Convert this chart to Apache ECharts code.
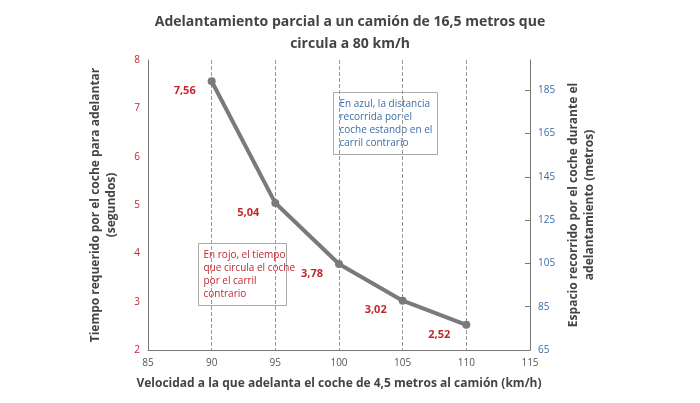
<!DOCTYPE html>
<html><head><meta charset="utf-8">
<script src="https://cdn.jsdelivr.net/npm/echarts@6/dist/echarts.min.js"></script>
<style>html,body{margin:0;padding:0;background:#fff}#c{width:700px;height:403px}</style>
</head><body><div id="c"></div>
<script>
const speeds = [90, 95, 100, 105, 110];
const times = [7.56, 5.04, 3.78, 3.02, 2.52];
const distances = [189.00, 133.00, 105.00, 88.20, 77.00];
const rightTicks = [65, 85, 105, 125, 145, 165, 185];

const red = '#c0282d', blue = '#3a6ea5';
const chart = echarts.init(document.getElementById('c'));
const fmt = v => v.toFixed(2).replace('.', ',');
chart.setOption({
  animation: false,
  title: {
    text: 'Adelantamiento parcial a un camión de 16,5 metros que\ncircula a 80 km/h',
    left: 'center', top: 6,
    textStyle: {fontFamily: 'Open Sans', fontSize: 14, fontWeight: 'bold', color: '#444', lineHeight: 22}
  },
  grid: {left: 148, right: 170, top: 60, bottom: 53},
  xAxis: {
    type: 'value', min: 85, max: 115, interval: 5,
    name: 'Velocidad a la que adelanta el coche de 4,5 metros al camión (km/h)',
    nameLocation: 'middle', nameGap: 28,
    nameTextStyle: {fontFamily: 'Open Sans', fontWeight: 'bold', fontSize: 12, color: '#444'},
    axisLine: {lineStyle: {color: '#777'}}, axisTick: {show: false},
    axisLabel: {color: '#555', fontSize: 10, fontFamily: 'Open Sans'},
    splitLine: {show: true, lineStyle: {type: 'dashed', color: '#999'}}
  },
  yAxis: [{
    type: 'value', min: 2, max: 8, interval: 1, position: 'left',
    name: 'Tiempo requerido por el coche para adelantar\n(segundos)',
    nameLocation: 'middle', nameGap: 28, nameRotate: 90,
    nameTextStyle: {fontFamily: 'Open Sans', fontWeight: 'bold', fontSize: 12, color: '#444', lineHeight: 16},
    axisLine: {show: true, lineStyle: {color: '#777'}}, axisTick: {show: false},
    axisLabel: {color: red, fontSize: 10, fontFamily: 'Open Sans'},
    splitLine: {show: false}
  }, {
    type: 'value', min: 65, max: 65 + 6.7 * 20, position: 'right',
    customValues: rightTicks,
    name: 'Espacio recorrido por el coche durante el\nadelantamiento (metros)',
    nameLocation: 'middle', nameGap: 36, nameRotate: 90,
    nameTextStyle: {fontFamily: 'Open Sans', fontWeight: 'bold', fontSize: 12, color: '#444', lineHeight: 16},
    axisLine: {show: true, lineStyle: {color: '#777'}},
    axisTick: {show: true, customValues: rightTicks, inside: true, lineStyle: {color: '#777'}},
    axisLabel: {color: blue, fontSize: 10, fontFamily: 'Open Sans', customValues: rightTicks},
    splitLine: {show: false}
  }],
  series: [{
    type: 'line', yAxisIndex: 0, z: 3,
    data: speeds.map((s, i) => [s, times[i]]),
    lineStyle: {color: '#7a7a7a', width: 4},
    itemStyle: {color: '#7a7a7a'}, symbol: 'circle', symbolSize: 8,
    label: {show: true, position: [-34, 8], formatter: p => fmt(p.value[1]),
      color: red, fontWeight: 'bold', fontSize: 11, fontFamily: 'Open Sans'}
  }, {
    type: 'line', yAxisIndex: 1, z: 4,
    data: speeds.map((s, i) => [s, distances[i]]),
    lineStyle: {opacity: 0}, symbol: 'circle', symbolSize: 1,
    itemStyle: {opacity: 0},
    label: {show: true, position: [10, -16], formatter: p => fmt(p.value[1]),
      color: blue, fontSize: 11, fontFamily: 'Open Sans'}
  }],
  graphic: [{
    type: 'group', left: 333, top: 92,
    children: [
      {type: 'rect', shape: {width: 104, height: 62}, style: {fill: '#fff', stroke: '#aaa'}},
      {type: 'text', x: 6, y: 5, style: {text: 'En azul, la distancia\nrecorrida por el\ncoche estando en el\ncarril contrario',
        fill: blue, font: '10px "Open Sans"', lineHeight: 13}}
    ]
  }, {
    type: 'group', left: 198, top: 243,
    children: [
      {type: 'rect', shape: {width: 88, height: 62}, style: {fill: '#fff', stroke: '#aaa'}},
      {type: 'text', x: 5, y: 5, style: {text: 'En rojo, el tiempo\nque circula el coche\npor el carril\ncontrario',
        fill: red, font: '10px "Open Sans"', lineHeight: 13}}
    ]
  }]
});
</script></body></html>
